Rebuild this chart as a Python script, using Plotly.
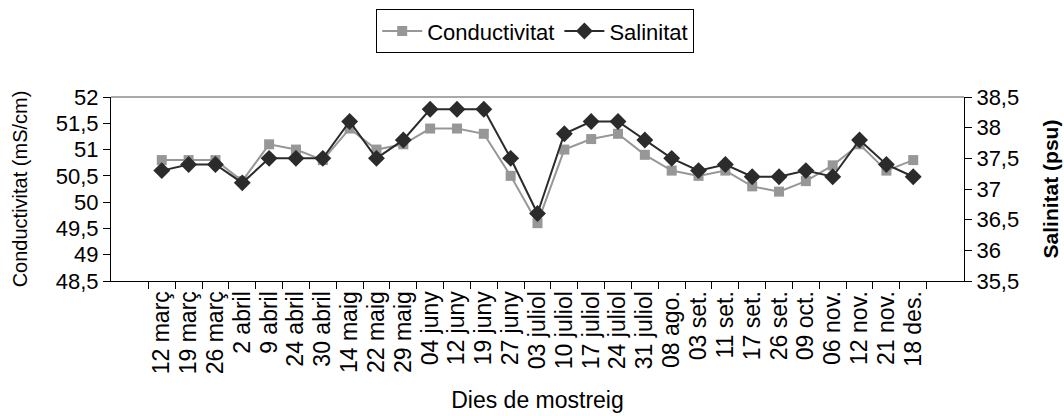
import plotly.graph_objects as go

# Sampling dates (x categories)
dies = ["12 març", "19 març", "26 març", "2 abril", "9 abril", "24 abril", "30 abril",
        "14 maig", "22 maig", "29 maig", "04 juny", "12 juny", "19 juny", "27 juny",
        "03 juliol", "10 juliol", "17 juliol", "24 juliol", "31 juliol", "08 ago.",
        "03 set.", "11 set.", "17 set.", "26 set.", "09 oct.", "06 nov.", "12 nov.",
        "21 nov.", "18 des."]

# Conductivity (mS/cm), left axis
conductivitat = [50.8, 50.8, 50.8, 50.4, 51.1, 51.0, 50.8, 51.4, 51.0, 51.1,
                 51.4, 51.4, 51.3, 50.5, 49.6, 51.0, 51.2, 51.3, 50.9, 50.6,
                 50.5, 50.6, 50.3, 50.2, 50.4, 50.7, 51.1, 50.6, 50.8]

# Salinity (psu), right axis
salinitat = [37.3, 37.4, 37.4, 37.1, 37.5, 37.5, 37.5, 38.1, 37.5, 37.8,
             38.3, 38.3, 38.3, 37.5, 36.6, 37.9, 38.1, 38.1, 37.8, 37.5,
             37.3, 37.4, 37.2, 37.2, 37.3, 37.2, 37.8, 37.4, 37.2]

ticks_cond = [48.5, 49, 49.5, 50, 50.5, 51, 51.5, 52]
ticks_sal = [35.5, 36, 36.5, 37, 37.5, 38, 38.5]


def coma(v):
    return f"{v:g}".replace(".", ",")


FONT = "Arial, 'Liberation Sans', sans-serif"

fig = go.Figure()
fig.add_trace(go.Scatter(
    x=dies, y=conductivitat, name="Conductivitat", mode="lines+markers",
    line=dict(color="#979797", width=2),
    marker=dict(symbol="square", size=10, color="#979797"),
    yaxis="y",
))
fig.add_trace(go.Scatter(
    x=dies, y=salinitat, name="Salinitat", mode="lines+markers",
    line=dict(color="#2b2b2b", width=2),
    marker=dict(symbol="diamond", size=13, color="#2b2b2b"),
    yaxis="y2",
))

fig.update_layout(
    width=1064, height=416,
    margin=dict(l=111, r=100, t=97, b=135),
    paper_bgcolor="white", plot_bgcolor="white",
    font=dict(family=FONT, size=22, color="black"),
    showlegend=True,
    legend=dict(
        orientation="h", xref="container", x=0.503, xanchor="center",
        yref="container", y=0.978, yanchor="top",
        bordercolor="black", borderwidth=1, bgcolor="white",
        font=dict(size=22), itemwidth=40, tracegroupgap=0,
    ),
    xaxis=dict(
        type="category", tickmode="linear", tick0=0, dtick=1,
        tickson="boundaries", ticks="outside", ticklen=7,
        tickcolor="black", showline=True, linecolor="black", linewidth=1,
        showgrid=False, zeroline=False, tickangle=-90,
        tickfont=dict(size=23),
        title=dict(text="Dies de mostreig", font=dict(size=23), standoff=18),
        automargin=False,
    ),
    yaxis=dict(
        range=[48.5, 52], tickvals=ticks_cond, ticktext=[coma(v) for v in ticks_cond],
        ticks="outside", ticklen=7, tickcolor="black", showline=True,
        linecolor="black", linewidth=1, showgrid=False, zeroline=False,
        tickfont=dict(size=22),
        title=dict(text="Conductivitat (mS/cm)", font=dict(size=20), standoff=22),
        automargin=False,
    ),
    yaxis2=dict(
        range=[35.5, 38.5], tickvals=ticks_sal, ticktext=[coma(v) for v in ticks_sal],
        overlaying="y", side="right", ticks="outside", ticklen=7, tickcolor="black",
        showline=True, linecolor="black", linewidth=1, showgrid=False,
        zeroline=False, tickfont=dict(size=22),
        title=dict(text="<b>Salinitat (psu)</b>", font=dict(size=21), standoff=25),
        automargin=False,
    ),
    shapes=[dict(type="line", xref="paper", yref="paper", x0=0, x1=1, y0=1, y1=1,
                 line=dict(color="#8c8c8c", width=1.5))],
)

fig.write_html("out.html")
